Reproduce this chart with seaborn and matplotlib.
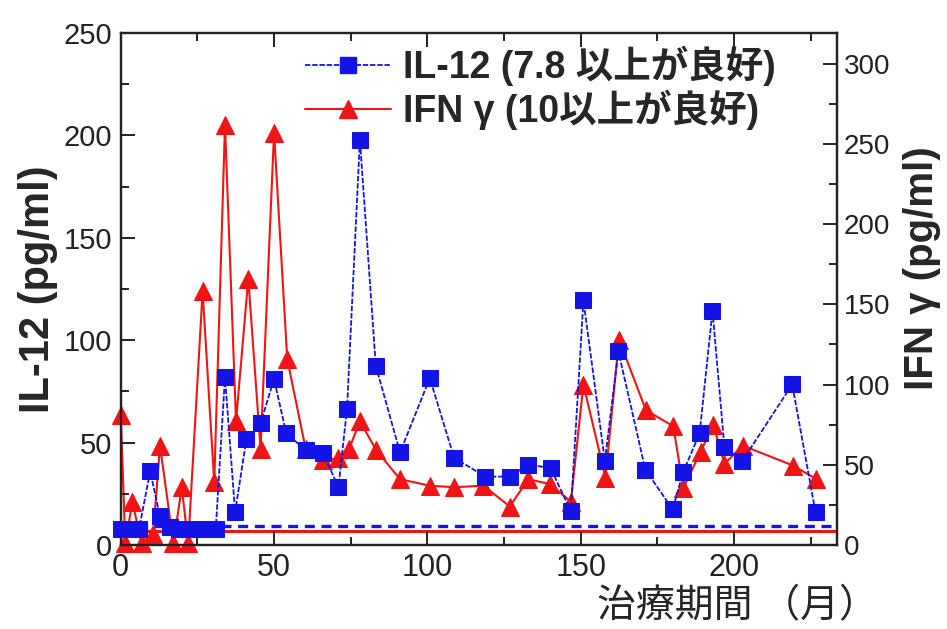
import seaborn as sns
import matplotlib.pyplot as plt
from matplotlib.ticker import MultipleLocator
from matplotlib.lines import Line2D

# IL-12 (left axis, pg/ml)
il12_month = [0, 3, 6, 9.6, 12.8, 16, 19, 22, 25, 28, 31, 34, 37.3, 41, 45.6, 50, 54,
              60.3, 66, 71, 73.8, 78, 83.2, 91.1, 100.8, 108.7, 118.8, 126.9, 132.9,
              140.2, 146.8, 150.9, 157.9, 162.3, 171.1, 180, 183.5, 188.8, 193, 196.9,
              202.7, 219, 226.6]
il12_value = [8, 8, 8, 36, 14, 9, 8, 8, 8, 8, 8, 82, 16, 52, 59.5, 81, 54.5,
              46.4, 44.7, 28.3, 66.5, 197.8, 87.4, 45.2, 81.5, 42.7, 33.4, 33.4, 39.3,
              37.6, 16.5, 119.4, 41, 94.6, 36.8, 17.4, 35.9, 54.5, 114.3, 47.7,
              41, 78.4, 16]

# IFN-gamma (right axis, pg/ml)
ifn_month = [0, 1.5, 3.8, 6.8, 10.6, 12.8, 17.2, 19.9, 22, 26.7, 30.5, 34, 37.6, 41.6,
             45.6, 50, 54.3, 60.3, 66, 71, 74.5, 78, 83.4, 91.1, 100.8, 108.7, 118.3,
             126.9, 132.9, 140, 146.8, 150.9, 158.1, 162.5, 171.3, 180.2, 183.5, 189.1,
             193.3, 196.9, 202.8, 219.3, 226.9]
ifn_value = [81, 1, 27, 1, 7, 62, 1, 36, 1, 158, 39, 262, 77, 166,
             60, 257, 116, 60, 53, 54, 60, 77, 59, 41, 37, 36, 37,
             24, 41, 38, 27, 100, 42, 128, 84, 74, 35.5, 58,
             75, 50.5, 62, 49.5, 41]

il12_threshold = 9.5
ifn_threshold = 9

il12_label = "IL-12 (7.8 以上が良好)"
ifn_label = "IFN γ (10以上が良好)"

BLUE = "#1414e6"
RED = "#f01414"

sns.set_style("ticks")
plt.rcParams["font.family"] = ["Liberation Sans", "Noto Sans CJK JP", "DejaVu Sans"]

fig = plt.figure(figsize=(9.47, 6.29), dpi=100)
ax = fig.add_axes([0.1275, 0.1335, 0.756, 0.814])
ax2 = ax.twinx()
ax.set_zorder(ax2.get_zorder() + 1)
ax.patch.set_visible(False)

# thresholds
ax.axhline(il12_threshold, color=BLUE, lw=2.4, ls=(0, (3, 2)), zorder=1)
ax2.axhline(ifn_threshold, color=RED, lw=2.2, zorder=1)

sns.lineplot(x=ifn_month, y=ifn_value, ax=ax2, color=RED, lw=1.5, marker="^",
             markersize=13, markeredgecolor=RED, clip_on=False, zorder=3)
sns.lineplot(x=il12_month, y=il12_value, ax=ax, color=BLUE, lw=1.3,
             linestyle=(0, (3, 1)), marker="s", markersize=11,
             markeredgecolor=BLUE, clip_on=False, zorder=4)

ax.set_xlim(0, 233.5)
ax.set_ylim(0, 250)
ax2.set_ylim(0, 319)

ax.xaxis.set_major_locator(MultipleLocator(50))
ax.xaxis.set_minor_locator(MultipleLocator(25))
ax.yaxis.set_major_locator(MultipleLocator(50))
ax.yaxis.set_minor_locator(MultipleLocator(25))
ax2.yaxis.set_major_locator(MultipleLocator(50))
ax2.yaxis.set_minor_locator(MultipleLocator(25))

for a in (ax, ax2):
    for s in a.spines.values():
        s.set_visible(True)
        s.set_linewidth(1.6)
        s.set_color("#222222")
ax.tick_params(which="both", direction="in", top=True, bottom=True, left=True,
               right=False, colors="#222222", width=1.4)
ax.tick_params(axis="x", labelsize=22)
ax.tick_params(axis="y", labelsize=21)
ax.tick_params(which="major", length=10, pad=6)
ax.tick_params(which="minor", length=6)
ax2.tick_params(which="both", direction="in", labelsize=20, colors="#222222",
                width=1.4)
ax2.tick_params(which="major", length=10, pad=5)
ax2.tick_params(which="minor", length=6)

ax.set_ylabel("IL-12 (pg/ml)", fontsize=30, fontweight="bold")
ax.yaxis.set_label_coords(-0.088, 0.5)
ax2.set_ylabel("IFN γ (pg/ml)", fontsize=29, fontweight="bold")
ax2.yaxis.set_label_coords(1.092, 0.54)
ax.set_xlabel("")
fig.text(878 / 947, 1 - 606 / 629, "治療期間 （月）", ha="right", va="center",
         fontsize=28, family=["Noto Sans CJK JP", "DejaVu Sans"])

handles = [
    Line2D([], [], color=BLUE, lw=1.3, ls=(0, (3, 1)), marker="s", markersize=11),
    Line2D([], [], color=RED, lw=1.5, marker="^", markersize=13),
]
ax.legend(handles, [il12_label, ifn_label], loc="upper left",
          bbox_to_anchor=(305 / 947, 1 - 46 / 629), bbox_transform=fig.transFigure,
          frameon=False, borderpad=0, borderaxespad=0, handlelength=2.3,
          handletextpad=0.3, labelspacing=0.1,
          prop={"size": 27, "weight": "bold",
                "family": ["Liberation Sans", "Noto Sans CJK JP"]})

fig.savefig("out.png", dpi=100)
